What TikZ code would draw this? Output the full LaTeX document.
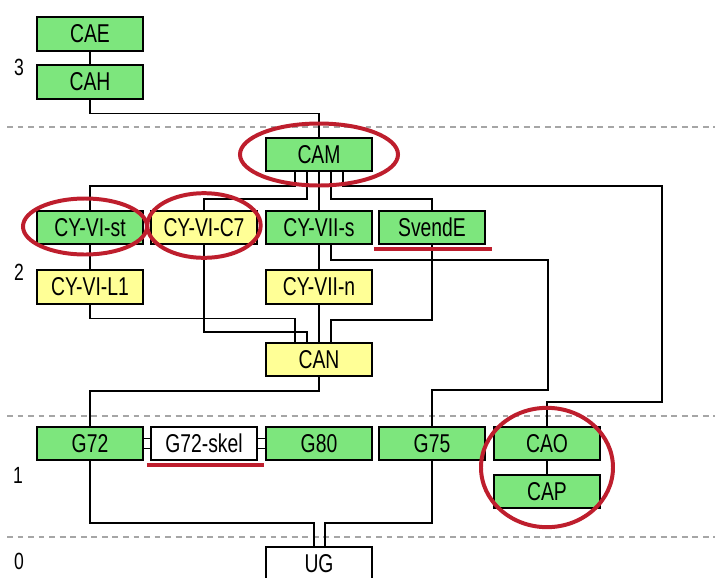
\documentclass[tikz,border=0pt]{standalone}
\usepackage{fontspec}
\setmainfont{Liberation Sans}[FakeStretch=0.75]
\usepackage{tikz}
\usetikzlibrary{calc}
\definecolor{nodegreen}{RGB}{125,230,125}
\definecolor{nodeyellow}{RGB}{255,255,150}
\definecolor{markred}{RGB}{190,30,45}

\begin{document}
\begin{tikzpicture}[
    x=0.03cm, y=-0.03cm,
    box/.style={draw, line width=1.5pt, minimum width=3.2cm, minimum height=1.0cm, inner sep=0pt, font=\fontsize{22}{22}\selectfont},
    gbox/.style={box, fill=nodegreen},
    ybox/.style={box, fill=nodeyellow},
    wbox/.style={box, fill=white},
    link/.style={line width=1.3pt},
    sepline/.style={gray!70, line width=1pt, dash pattern=on 5pt off 4pt},
    lvl/.style={font=\fontsize{20}{20}\selectfont},
    ring/.style={draw=markred, line width=3.4pt},
    redline/.style={draw=markred, line width=4pt},
]
\useasboundingbox (0,0) rectangle (715,577);
% Level separators
\draw[sepline] (7,127) -- (715,127);
\draw[sepline] (7,416) -- (715,416);
\draw[sepline] (7,537) -- (715,537);
% Level numbers
\node[lvl] (lvl3) at (19,67) {3};
\node[lvl] (lvl2) at (19,272) {2};
\node[lvl] (lvl1) at (18,475) {1};
\node[lvl] (lvl0) at (19,561) {0};
% Level 3
\node[gbox] (cae) at (90,34) {CAE};
\node[gbox] (cah) at (90,82) {CAH};
% Level 2
\node[gbox] (cam) at (319,154.5) {CAM};
\node[gbox] (cyvist) at (90,227.5) {CY-VI-st};
\node[ybox] (cyvic7) at (204,227.5) {CY-VI-C7};
\node[gbox] (cyviis) at (319,227.5) {CY-VII-s};
\node[gbox] (svende) at (432,227.5) {SvendE};
\node[ybox] (cyvil1) at (90,287) {CY-VI-L1};
\node[ybox] (cyviin) at (319,287) {CY-VII-n};
\node[ybox] (can) at (319,359.5) {CAN};
% Level 1
\node[gbox] (g72) at (90,443.5) {G72};
\node[wbox] (g72skel) at (204,443.5) {G72-skel};
\node[gbox] (g80) at (319,443.5) {G80};
\node[gbox] (g75) at (432,443.5) {G75};
\node[gbox] (cao) at (547,443.5) {CAO};
\node[gbox] (cap) at (547,491.5) {CAP};
% Level 0
\node[wbox] (ug) at (319,564) {UG};
% Bend points
\coordinate (caoturn) at (662,402);
\coordinate (g75turn) at (548,390);
% Connectors
\draw[link] (cae) -- (cah);
\draw[link] (cah.south) -- ++(0,14) -| (cam.north);
\draw[link] ($(cam.south)+(-24,0)$) -- ++(0,14) -| (cyvist.north);
\draw[link] ($(cam.south)+(-12,0)$) -- ++(0,27) -| (cyvic7.north);
\draw[link] (cam) -- (cyviis);
\draw[link] ($(cam.south)+(12,0)$) -- ++(0,27) -| (svende.north);
\draw[link] ($(cam.south)+(24,0)$) -- ++(0,14) -| (caoturn) -| (cao.north);
\draw[link] (cyvist) -- (cyvil1);
\draw[link] (cyviis) -- (cyviin);
\draw[link] (cyviin) -- (can);
\draw[link] (cyvil1.south) -- ++(0,14) -| ($(can.north)+(-24,0)$);
\draw[link] (cyvic7.south) -- ++(0,87) -| ($(can.north)+(-12,0)$);
\draw[link] (svende.south) -- ++(0,75) -| ($(can.north)+(12,0)$);
\draw[link] ($(cyviis.south)+(12,0)$) -- ++(0,15) -| (g75turn) -| (g75.north);
\draw[link] (can.south) -- ++(0,14) -| (g72.north);
\draw[link] (cao) -- (cap);
\draw[link] (g72.south) -- ++(0,62) -| ($(ug.north)+(-5,0)$);
\draw[link] (g75.south) -- ++(0,62) -| ($(ug.north)+(6,0)$);
% Sibling links
\draw[link] ($(g72.east)+(0,-5)$) -- ($(g72skel.west)+(0,-5)$);
\draw[link] ($(g72.east)+(0,5)$) -- ($(g72skel.west)+(0,5)$);
\draw[link] ($(g72skel.east)+(0,-5)$) -- ($(g80.west)+(0,-5)$);
\draw[link] ($(g72skel.east)+(0,5)$) -- ($(g80.west)+(0,5)$);
% Red marks
\draw[ring] (cam) ellipse [x radius=2.37cm, y radius=0.93cm];
\draw[ring] ($(cyvist)+(-5,-1)$) ellipse [x radius=1.86cm, y radius=0.84cm];
\draw[ring] ($(cyvic7)+(0,-2)$) ellipse [x radius=1.7cm, y radius=0.97cm];
\draw[ring] ($(cao)!0.5!(cap)$) ellipse [x radius=1.98cm, y radius=1.79cm];
\draw[redline] ($(svende.south west)+(-4,4)$) -- ($(svende.south east)+(6,4)$);
\draw[redline] ($(g72skel.south west)+(-3,4)$) -- ($(g72skel.south east)+(6,4)$);
\end{tikzpicture}
\end{document}
